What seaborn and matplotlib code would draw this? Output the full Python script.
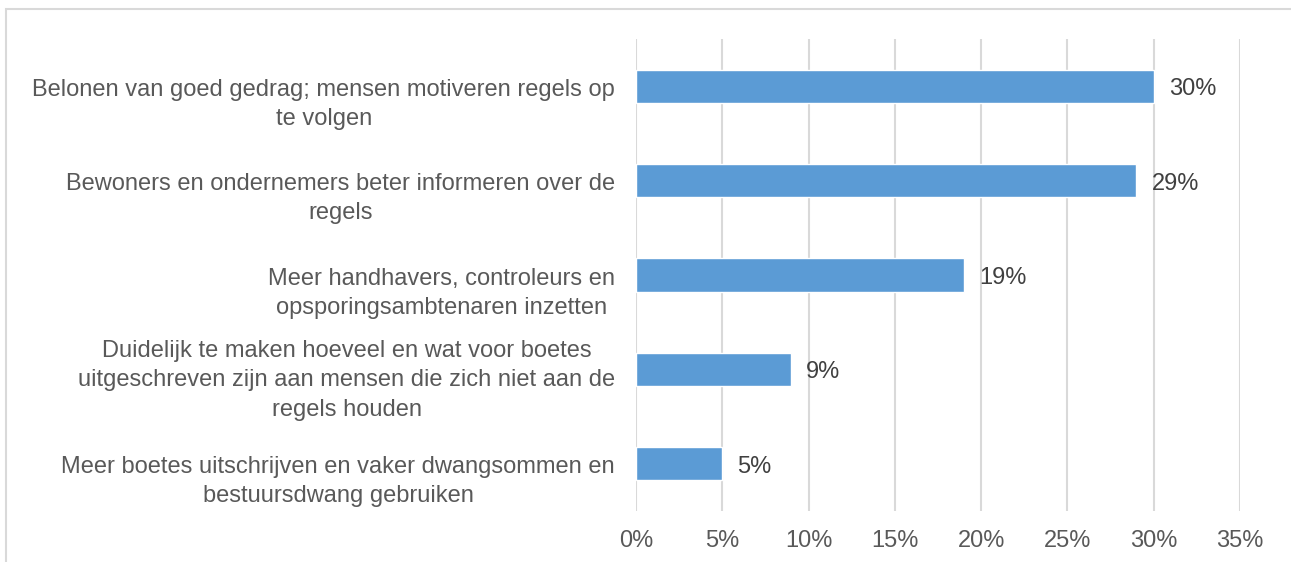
import matplotlib
matplotlib.use("Agg")
import matplotlib.pyplot as plt
import matplotlib.patches as mpatches
import matplotlib.transforms as mtransforms
import pandas as pd
import seaborn as sns

CATEGORIES = [
    "Belonen van goed gedrag; mensen motiveren regels op\nte volgen",
    "Bewoners en ondernemers beter informeren over de\nregels",
    "Meer handhavers, controleurs en\nopsporingsambtenaren inzetten",
    "Duidelijk te maken hoeveel en wat voor boetes\nuitgeschreven zijn aan mensen die zich niet aan de\nregels houden",
    "Meer boetes uitschrijven en vaker dwangsommen en\nbestuursdwang gebruiken",
]
VALUES = [30, 29, 19, 9, 5]
XTICKS = [0, 5, 10, 15, 20, 25, 30, 35]

BAR_COLOR = "#5B9BD5"
TEXT_COLOR = "#595959"
GRID_COLOR = "#D9D9D9"
FS = 17


def main():
    sns.set_theme(style="white")
    plt.rcParams["font.family"] = ["Liberation Sans", "DejaVu Sans"]

    df = pd.DataFrame({"category": CATEGORIES, "value": VALUES})

    fig = plt.figure(figsize=(12.91, 5.62), dpi=100)
    ax = fig.add_axes([0.4926, 0.0907, 0.4679, 0.8399])

    sns.barplot(data=df, y="category", x="value", orient="h",
                color=BAR_COLOR, width=0.35, saturation=1, ax=ax)

    ax.set_xlim(0, 35)
    ax.set_ylim(len(CATEGORIES) - 0.5, -0.5)
    ax.set_xticks(XTICKS)
    ax.set_xticklabels([f"{t}%" for t in XTICKS])
    ax.xaxis.grid(True, color=GRID_COLOR, linewidth=1.5)
    ax.set_axisbelow(True)
    for s in ax.spines.values():
        s.set_visible(False)
    ax.set_xlabel("")
    ax.set_ylabel("")
    ax.tick_params(axis="x", length=0, pad=14, labelsize=FS, labelcolor=TEXT_COLOR)
    ax.tick_params(axis="y", length=0, pad=15, labelsize=FS, labelcolor=TEXT_COLOR)

    # excel puts the wrapped category labels a bit below the bar centre
    for lbl in ax.get_yticklabels():
        lbl.set_multialignment("center")
        lbl.set_linespacing(1.42)
        n_lines = lbl.get_text().count("\n") + 1
        shift = 0.12 if n_lines == 2 else 0.05
        offset = mtransforms.ScaledTranslation(0, -shift, fig.dpi_scale_trans)
        lbl.set_transform(lbl.get_transform() + offset)

    for i, v in enumerate(VALUES):
        ax.annotate(f"{v}%", (v, i), xytext=(15, -3), textcoords="offset pixels",
                    ha="left", va="center", fontsize=FS, color="#404040")

    border = mpatches.Rectangle((6 / 1291, -0.1), 1.2, 1 - 9 / 562 + 0.1,
                                transform=fig.transFigure, fill=False,
                                edgecolor=GRID_COLOR, linewidth=1.5)
    fig.patches.append(border)

    fig.savefig("out.png", dpi=100)


if __name__ == "__main__":
    main()
